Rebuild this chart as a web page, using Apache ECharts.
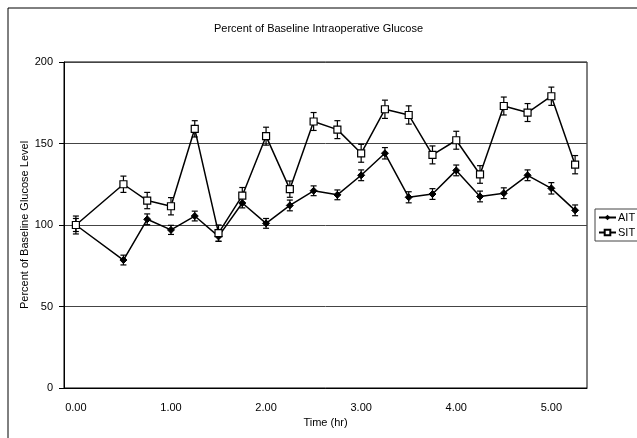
<!DOCTYPE html>
<html>
<head>
    <meta charset="UTF-8">
    <title>Percent of Baseline Intraoperative Glucose</title>
    <script src="https://cdn.jsdelivr.net/npm/echarts@6.0.0/dist/echarts.min.js"></script>
    <style>
        body { padding: 0; margin: 0; background: #fff; }
        #chart { width: 637px; height: 438px; }
    </style>
</head>
<body>
    <div id="chart"></div>

    <script>
        // time points (hr), 0.25 has no measurement
        const times = ['0.00', '0.25', '0.50', '0.75', '1.00', '1.25', '1.50', '1.75', '2.00', '2.25', '2.50',
                       '2.75', '3.00', '3.25', '3.50', '3.75', '4.00', '4.25', '4.50', '4.75', '5.00', '5.25'];
        const ait = [100, null, 78.5, 103.5, 97, 105.5, 93, 113.5, 101, 112, 121,
                     118.5, 130.5, 144, 117, 119, 133.5, 117.5, 119.5, 130.5, 122.5, 109];
        const aitErr = [4, null, 3, 3.3, 2.8, 3, 3, 3, 3, 3.3, 3,
                        3, 3.3, 3.5, 3.4, 3.3, 3.3, 3.3, 3.3, 3.3, 3.5, 3.3];
        const sit = [100, null, 125, 115, 111.5, 159, 95, 118, 154.5, 122, 163.5,
                     158.5, 144, 171, 167.5, 143, 152, 131, 173, 169, 179, 137];
        const sitErr = [5.5, null, 5, 5, 5.3, 5, 5, 5, 5.5, 5, 5.5,
                        5.5, 5.5, 5.6, 5.6, 5.5, 5.5, 5.4, 5.5, 5.5, 5.6, 5.6];

        const font = 'Liberation Sans, Arial, sans-serif';

        function errData(vals, errs) {
            const out = [];
            vals.forEach((v, i) => {
                if (v != null) out.push([i, v - errs[i], v + errs[i]]);
            });
            return out;
        }

        function renderErr(params, api) {
            const x = api.value(0);
            const lo = api.coord([x, api.value(1)]);
            const hi = api.coord([x, api.value(2)]);
            const w = 3;
            const style = { stroke: '#000', lineWidth: 1.2 };
            return {
                type: 'group',
                children: [
                    { type: 'line', shape: { x1: lo[0], y1: lo[1], x2: hi[0], y2: hi[1] }, style: style },
                    { type: 'line', shape: { x1: lo[0] - w, y1: lo[1], x2: lo[0] + w, y2: lo[1] }, style: style },
                    { type: 'line', shape: { x1: hi[0] - w, y1: hi[1], x2: hi[0] + w, y2: hi[1] }, style: style }
                ]
            };
        }

        const chart = echarts.init(document.getElementById('chart'));
        chart.setOption({
            animation: false,
            backgroundColor: '#fff',
            textStyle: { fontFamily: font, color: '#000' },
            title: {
                text: 'Percent of Baseline Intraoperative Glucose',
                left: 'center', top: 18,
                textStyle: { fontFamily: font, fontSize: 11, fontWeight: 'normal', color: '#000' }
            },
            graphic: [{
                type: 'rect', silent: true,
                shape: { x: 8, y: 8, width: 700, height: 500 },
                style: { fill: 'none', stroke: '#000', lineWidth: 1 }
            }],
            legend: {
                data: ['AIT', 'SIT'],
                orient: 'vertical',
                left: 595, top: 209,
                borderColor: '#444', borderWidth: 1,
                padding: [3, 4, 3, 3],
                itemGap: 4,
                itemWidth: 17, itemHeight: 7,
                textStyle: { fontFamily: font, fontSize: 11, color: '#000', padding: [0, 0, 0, -3] }
            },
            grid: {
                left: 64, right: 50, top: 62, bottom: 50,
                show: true, borderColor: '#000', borderWidth: 1
            },
            xAxis: {
                type: 'category',
                data: times,
                boundaryGap: true,
                name: 'Time (hr)',
                nameLocation: 'middle',
                nameGap: 27,
                nameTextStyle: { fontFamily: font, fontSize: 11, color: '#000' },
                axisLine: { lineStyle: { color: '#000', width: 1 } },
                axisTick: { interval: 0, length: 4, lineStyle: { color: '#000' } },
                axisLabel: { interval: 3, margin: 14, fontFamily: font, fontSize: 11, color: '#000' },
                splitLine: { show: false }
            },
            yAxis: {
                type: 'value',
                min: 0, max: 200, interval: 50,
                name: 'Percent of Baseline Glucose Level',
                nameLocation: 'middle',
                nameGap: 34,
                nameMoveOverlap: false,
                nameTextStyle: { fontFamily: font, fontSize: 11, color: '#000' },
                axisLine: { show: true, lineStyle: { color: '#000', width: 1 } },
                axisTick: { show: true, length: 5, lineStyle: { color: '#000' } },
                axisLabel: { margin: 11, fontFamily: font, fontSize: 11, color: '#000' },
                splitLine: { lineStyle: { color: '#444', width: 1 } }
            },
            series: [
                {
                    name: 'AIT', type: 'line', data: ait, connectNulls: true,
                    symbol: 'diamond', symbolSize: 7,
                    lineStyle: { color: '#000', width: 1.5 },
                    itemStyle: { color: '#000', borderColor: '#000' },
                    z: 3
                },
                {
                    name: 'SIT', type: 'line', data: sit, connectNulls: true,
                    symbol: 'rect', symbolSize: 7,
                    lineStyle: { color: '#000', width: 1.5 },
                    itemStyle: { color: '#fff', borderColor: '#000', borderWidth: 1.2 },
                    z: 4
                },
                {
                    type: 'custom', name: 'AIT err', renderItem: renderErr,
                    data: errData(ait, aitErr), encode: { x: 0, y: [1, 2] }, z: 2, silent: true
                },
                {
                    type: 'custom', name: 'SIT err', renderItem: renderErr,
                    data: errData(sit, sitErr), encode: { x: 0, y: [1, 2] }, z: 2, silent: true
                }
            ]
        });
    </script>
</body>
</html>
